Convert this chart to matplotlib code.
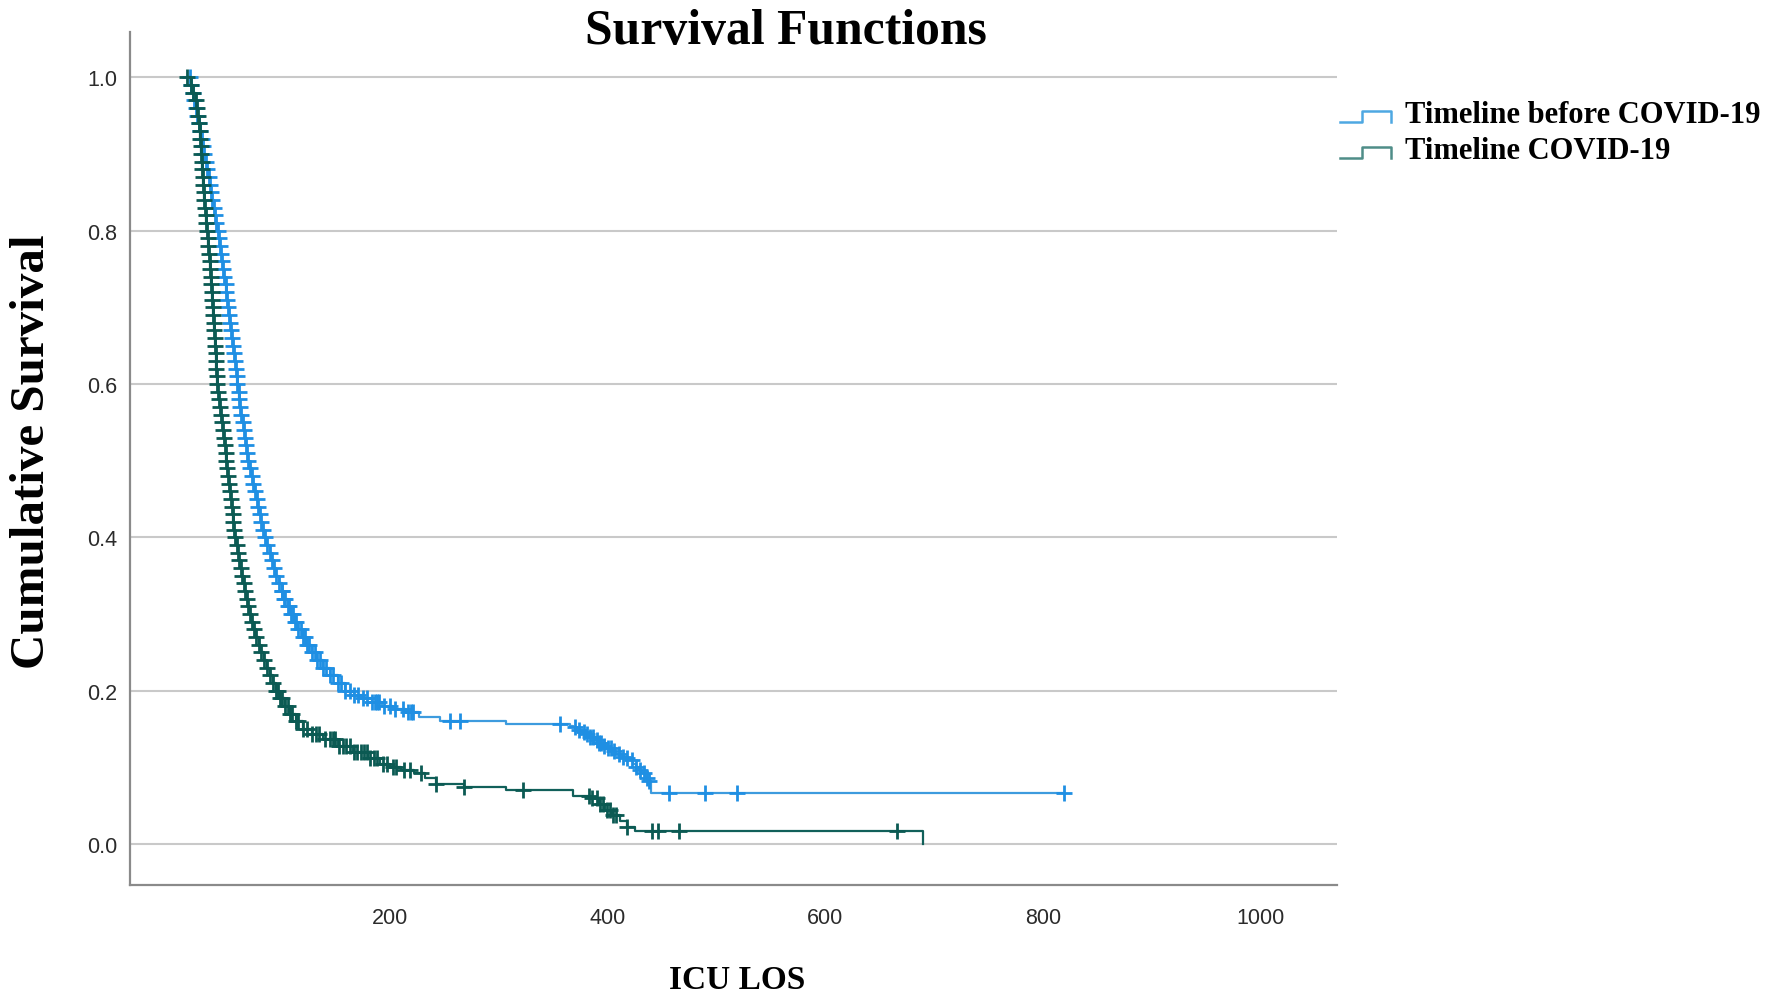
import numpy as np
import matplotlib
matplotlib.use("Agg")
import matplotlib.pyplot as plt
from matplotlib.lines import Line2D

# ---------------- data ----------------
# Kaplan-Meier step curve: Timeline before COVID-19  (time, survival)
before_t = [16.0, 17.5, 19.0, 20.5, 22.0, 23.0, 24.5, 26.0, 27.0, 28.5, 29.5, 31.0,
            32.0, 33.5, 34.5, 35.5, 37.0, 38.0, 39.5, 40.5, 42.0, 43.0, 44.0, 45.0,
            46.0, 47.0, 48.0, 49.0, 49.8, 50.7, 51.5, 52.5, 53.4, 54.2, 55.0, 56.0,
            56.8, 57.6, 58.4, 59.2, 60.0, 61.0, 61.8, 62.7, 63.6, 64.6, 65.6, 66.6,
            67.6, 68.8, 70.0, 71.5, 73.0, 74.5, 76.0, 77.5, 79.0, 80.5, 82.0, 83.5,
            85.5, 87.5, 89.5, 91.5, 93.5, 95.5, 98.0, 100.5, 103.0, 106.0, 109.0,
            112.5, 116.0, 120.0, 124.0, 128.5, 133.0, 138.5, 145.0, 152.0, 159.0,
            167.0, 175.0, 184.0, 193.0, 203.0, 215.0, 227.0, 246.0, 307.0, 365.0,
            368.0, 372.0, 376.0, 380.0, 384.0, 388.0, 392.0, 396.0, 400.0, 404.0,
            408.0, 413.0, 417.0, 420.0, 423.0, 426.0, 429.0, 432.0, 434.0, 436.0,
            438.0, 440.0]
before_s = [1.00, 0.99, 0.98, 0.97, 0.96, 0.95, 0.94, 0.93, 0.92, 0.91, 0.90, 0.89,
            0.88, 0.87, 0.86, 0.85, 0.84, 0.83, 0.82, 0.81, 0.80, 0.79, 0.78, 0.77,
            0.76, 0.75, 0.74, 0.73, 0.72, 0.71, 0.70, 0.69, 0.68, 0.67, 0.66, 0.65,
            0.64, 0.63, 0.62, 0.61, 0.60, 0.59, 0.58, 0.57, 0.56, 0.55, 0.54, 0.53,
            0.52, 0.51, 0.50, 0.49, 0.48, 0.47, 0.46, 0.45, 0.44, 0.43, 0.42, 0.41,
            0.40, 0.39, 0.38, 0.37, 0.36, 0.35, 0.34, 0.33, 0.32, 0.31, 0.30,
            0.29, 0.28, 0.27, 0.26, 0.25, 0.24, 0.23, 0.22, 0.21, 0.20,
            0.195, 0.190, 0.185, 0.180, 0.176, 0.172, 0.166, 0.161, 0.157, 0.154,
            0.152, 0.149, 0.146, 0.143, 0.139, 0.136, 0.132, 0.128, 0.125, 0.121,
            0.117, 0.114, 0.112, 0.109, 0.104, 0.100, 0.096, 0.092, 0.089, 0.086,
            0.082, 0.066]
before_end = 819
before_extra_cens = [101, 104, 107, 111, 114, 118, 122, 126, 131, 136, 141, 148,
                     155, 163, 171, 179, 186, 188, 190, 195, 200, 205, 212, 217,
                     219, 221, 255, 264, 356,
                     370, 374, 378, 381, 384, 387, 390, 392, 394, 397, 400, 403,
                     406, 410, 414, 418, 422, 426, 430, 433, 436, 438,
                     456, 489, 519, 819]

# Kaplan-Meier step curve: Timeline COVID-19  (time, survival)
covid_t = [14.0, 17.0, 19.5, 21.5, 23.0, 24.0, 24.8, 25.5, 26.0, 26.5, 26.9, 27.3,
           27.7, 28.1, 28.5, 29.0, 29.6, 30.2, 30.8, 31.3, 31.8, 32.5, 33.2, 33.8,
           34.3, 34.8, 35.3, 35.8, 36.3, 36.8, 37.3, 37.7, 38.1, 38.5, 38.9, 39.3,
           39.8, 40.2, 40.6, 41.0, 41.5, 42.4, 43.3, 44.2, 45.1, 45.9, 46.7, 47.5,
           48.3, 49.1, 49.9, 50.7, 51.5, 52.3, 53.1, 53.9, 54.7, 55.5, 56.3, 57.1,
           58.0, 59.2, 60.4, 61.6, 62.9, 64.2, 65.6, 67.0, 68.4, 69.9, 71.4, 73.0,
           75.2, 77.4, 79.6, 82.0, 84.4, 86.8, 89.6, 92.6, 95.8, 99.5, 103.5,
           108.0, 113.5, 120.0, 128.0, 139.0, 152.0, 166.0, 180.0, 191.0, 200.0,
           210.0, 222.0, 232.0, 242.0, 268.0, 307.0, 368.0, 385.0, 392.0, 398.0,
           404.0, 411.0, 418.0, 425.0, 690.0]
covid_s = [1.00, 0.99, 0.98, 0.97, 0.96, 0.95, 0.94, 0.93, 0.92, 0.91, 0.90, 0.89,
           0.88, 0.87, 0.86, 0.85, 0.84, 0.83, 0.82, 0.81, 0.80, 0.79, 0.78, 0.77,
           0.76, 0.75, 0.74, 0.73, 0.72, 0.71, 0.70, 0.69, 0.68, 0.67, 0.66, 0.65,
           0.64, 0.63, 0.62, 0.61, 0.60, 0.59, 0.58, 0.57, 0.56, 0.55, 0.54, 0.53,
           0.52, 0.51, 0.50, 0.49, 0.48, 0.47, 0.46, 0.45, 0.44, 0.43, 0.42, 0.41,
           0.40, 0.39, 0.38, 0.37, 0.36, 0.35, 0.34, 0.33, 0.32, 0.31, 0.30, 0.29,
           0.28, 0.27, 0.26, 0.25, 0.24, 0.23, 0.22, 0.21, 0.20, 0.19, 0.18,
           0.17, 0.16, 0.15, 0.143, 0.137, 0.128, 0.120, 0.112, 0.105, 0.100,
           0.096, 0.092, 0.086, 0.078, 0.074, 0.070, 0.063, 0.060, 0.052, 0.045,
           0.038, 0.030, 0.022, 0.017, 0.000]
covid_extra_cens = [97, 101, 106, 110, 116, 124, 132, 135, 140, 145, 148, 150,
                    153, 157, 160, 163, 167, 170, 173, 176, 179, 182, 185, 188,
                    194, 197, 203, 206, 213, 218, 229, 242, 268, 322, 383, 386,
                    390, 393, 396, 399, 402, 405, 408, 418, 441, 446, 466, 666]

labels = ["Timeline before COVID-19", "Timeline COVID-19"]
x_ticks = [200, 400, 600, 800, 1000]
y_ticks = [0.0, 0.2, 0.4, 0.6, 0.8, 1.0]

# censored cases: one at each step in the dense early part plus the isolated ones
before_cens = [t for t in before_t if t <= 184] + before_extra_cens
covid_cens = [t for t in covid_t if t <= 128] + covid_extra_cens

# ---------------- styling ----------------
BLUE_LINE = "#3d9bde"
BLUE_MARK = "#1f8fe3"
GREEN_LINE = "#11605a"
GREEN_MARK = "#0b5a53"
SERIF = ["Liberation Serif", "DejaVu Serif"]
SANS = ["Liberation Sans", "DejaVu Sans"]

W, H = 1770, 1004
fig = plt.figure(figsize=(W / 100, H / 100), dpi=100)
ax = fig.add_axes([129.5 / W, 1 - 885.5 / H, (1336.6 - 129.5) / W, (885.5 - 33.4) / H])


def surv_at(times, surv, q):
    times = np.asarray(times, float)
    surv = np.asarray(surv, float)
    idx = np.searchsorted(times, np.asarray(q, float), side="right") - 1
    idx = np.clip(idx, 0, len(surv) - 1)
    return surv[idx]


# before COVID curve
bt = list(before_t) + [before_end]
bs = list(before_s) + [before_s[-1]]
ax.step(bt, bs, where="post", color=BLUE_LINE, lw=1.6, zorder=3)
ax.plot(before_cens, surv_at(before_t, before_s, before_cens), linestyle="none",
        marker="+", markersize=11, mew=2.0, color=BLUE_MARK, zorder=4)

# COVID curve
ax.step(covid_t, covid_s, where="post", color=GREEN_LINE, lw=1.6, zorder=5)
ax.plot(covid_cens, surv_at(covid_t, covid_s, covid_cens), linestyle="none",
        marker="+", markersize=11, mew=2.0, color=GREEN_MARK, zorder=6)

ax.set_xlim(-39.2, 1069.6)
ax.set_ylim(-0.0528, 1.0586)
ax.set_xticks(x_ticks)
ax.set_xticklabels([str(v) for v in x_ticks], fontfamily=SANS, fontsize=15.5, color="#2b2b2b")
ax.set_yticks(y_ticks)
ax.set_yticklabels([f"{v:.1f}" for v in y_ticks], fontfamily=SANS, fontsize=15.5, color="#2b2b2b")
ax.tick_params(axis="both", length=0)
ax.tick_params(axis="x", pad=16)
ax.tick_params(axis="y", pad=9)
ax.yaxis.grid(True, color="#c9c9c9", lw=1.5, zorder=0)
ax.set_axisbelow(True)
for side in ("top", "right"):
    ax.spines[side].set_visible(False)
for side in ("left", "bottom"):
    ax.spines[side].set_color("#8a8a8a")
    ax.spines[side].set_linewidth(1.6)

# titles and axis labels
fig.text(786 / W, 1 - 32 / H, "Survival Functions", ha="center", va="center",
         fontfamily=SERIF, fontweight="bold", fontsize=35.7)
fig.text(32 / W, 1 - 452 / H, "Cumulative Survival", ha="center", va="center",
         rotation=90, fontfamily=SERIF, fontweight="bold", fontsize=35.3)
fig.text(737 / W, 1 - 981 / H, "ICU LOS", ha="center", va="center",
         fontfamily=SERIF, fontweight="bold", fontsize=24)

# legend (step-shaped handles as in the SPSS output)
handle_cols = ["#4ea8e2", "#4f8d88"]
rows_y = [115.5, 151.5]
for lab, col, ry in zip(labels, handle_cols, rows_y):
    xs = [1340, 1362, 1362, 1391, 1391]
    ys = [ry + 7, ry + 7, ry - 4, ry - 4, ry + 7]
    fig.add_artist(Line2D([x / W for x in xs], [1 - y / H for y in ys],
                          transform=fig.transFigure, color=col, lw=1.8))
    fig.text(1405 / W, 1 - ry / H, lab, ha="left", va="center",
             fontfamily=SERIF, fontweight="bold", fontsize=22)

fig.savefig("out.png", dpi=100)
